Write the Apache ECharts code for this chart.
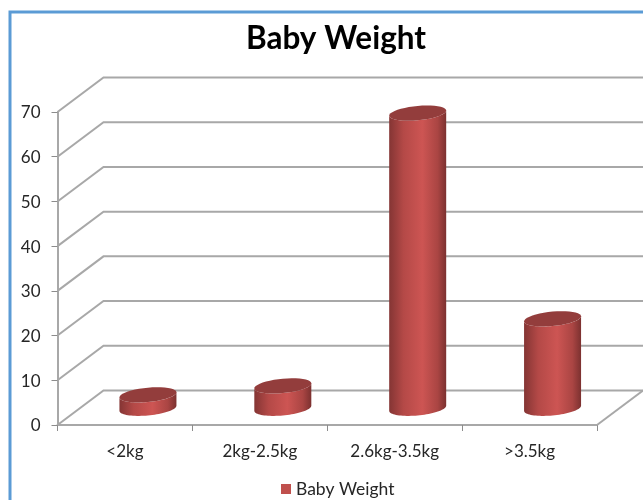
<!DOCTYPE html>
<html>
<head>
<meta charset="utf-8">
<style>html,body{margin:0;padding:0;background:#fff}#c{width:643px;height:500px}</style>
<script src="https://cdn.jsdelivr.net/npm/echarts@6/dist/echarts.min.js"></script>
</head>
<body>
<div id="c"></div>
<script>
const categories = ['<2kg', '2kg-2.5kg', '2.6kg-3.5kg', '>3.5kg'];
const values = [3, 5, 66, 20];
const yTicks = [0, 10, 20, 30, 40, 50, 60, 70];
const seriesName = 'Baby Weight';

const DX = 46, DY = -34.5, GRID = '#a8a8a8', FONT = 'Lato, "Open Sans", sans-serif';
const RX = 28.5, RY = 7.2, SHEAR = 0.09;

function arc(cx, cy, from, to) {
  const pts = [];
  for (let i = 0; i <= 40; i++) {
    const t = from + (to - from) * i / 40;
    pts.push([cx + RX * Math.cos(t), cy + RY * Math.sin(t) - SHEAR * RX * Math.cos(t)]);
  }
  return pts;
}

function renderWall(params, api) {
  const cs = params.coordSys;
  const y = api.coord([0, api.value(1)])[1];
  const left = cs.x, right = cs.x + cs.width;
  const style = { stroke: GRID, lineWidth: 2, fill: null };
  const children = [{
    type: 'polyline',
    shape: { points: [[left, y], [left + DX, y + DY], [right + DX, y + DY]] },
    style: style
  }];
  if (api.value(1) === 0) {
    children.push({
      type: 'line',
      shape: { x1: right, y1: y, x2: right + DX, y2: y + DY },
      style: style
    });
  }
  return { type: 'group', children: children };
}

function renderCylinder(params, api) {
  const base = api.coord([api.value(0), 0]);
  const top = api.coord([api.value(0), api.value(1)]);
  const cx = base[0] + DX / 2;
  const by = base[1] + DY / 2 + 0.5;
  const ty = top[1] + DY / 2 + 0.5;
  const body = arc(cx, ty, Math.PI, 0).concat(arc(cx, by, 0, Math.PI));
  return {
    type: 'group',
    children: [{
      type: 'polygon',
      shape: { points: body },
      style: {
        fill: new echarts.graphic.LinearGradient(0, 0, 1, 0, [
          { offset: 0, color: '#843534' },
          { offset: 0.25, color: '#b44947' },
          { offset: 0.58, color: '#cd5553' },
          { offset: 0.85, color: '#aa4543' },
          { offset: 1, color: '#7c3130' }
        ])
      }
    }, {
      type: 'polygon',
      shape: { points: arc(cx, ty, 0, Math.PI * 2) },
      style: { fill: '#933d3c' }
    }]
  };
}

const chart = echarts.init(document.getElementById('c'), null, { renderer: 'canvas' });
chart.setOption({
  animation: false,
  backgroundColor: '#fff',
  title: {
    text: seriesName,
    left: 331, top: 18, textAlign: 'center',
    textStyle: { fontFamily: FONT, fontWeight: 'bold', fontSize: 31.5, color: '#000' }
  },
  legend: {
    data: [seriesName],
    left: 281, top: 480,
    icon: 'rect', itemWidth: 10, itemHeight: 10, itemGap: 5, padding: 0,
    textStyle: { fontFamily: FONT, fontSize: 17.5, color: '#262626', padding: [1, 0, 0, 0] }
  },
  grid: { left: 57.5, right: 46, top: 112, bottom: 75, containLabel: false },
  graphic: [{
    type: 'polyline',
    silent: true,
    shape: { points: [[10, 505], [10, 12], [650, 12]] },
    style: { stroke: '#5b9bd5', lineWidth: 3, fill: null }
  }],
  xAxis: {
    type: 'category',
    data: categories,
    boundaryGap: true,
    axisLine: { lineStyle: { color: GRID, width: 2 } },
    axisTick: { show: true, length: 6, alignWithLabel: false, lineStyle: { color: '#8c8c8c', width: 1 } },
    axisLabel: { interval: 0, margin: 18, fontFamily: FONT, fontSize: 17, color: '#262626' },
    splitLine: { show: false }
  },
  yAxis: {
    type: 'value',
    min: 0, max: 70, interval: 10,
    axisLine: { show: true, lineStyle: { color: GRID, width: 2 } },
    axisTick: { show: true, length: 6, lineStyle: { color: '#8c8c8c', width: 1 } },
    axisLabel: { margin: 17, fontFamily: FONT, fontSize: 17, color: '#262626', verticalAlign: 'top', lineHeight: 2 },
    splitLine: { show: false }
  },
  series: [{
    name: 'walls',
    type: 'custom',
    silent: true,
    clip: false,
    z: 1,
    renderItem: renderWall,
    encode: { x: 0, y: 1 },
    data: yTicks.map(v => [0, v])
  }, {
    name: seriesName,
    type: 'custom',
    clip: false,
    z: 3,
    itemStyle: { color: '#c0504d' },
    renderItem: renderCylinder,
    encode: { x: 0, y: 1 },
    data: values.map((v, i) => [i, v])
  }]
});
</script>
</body>
</html>
